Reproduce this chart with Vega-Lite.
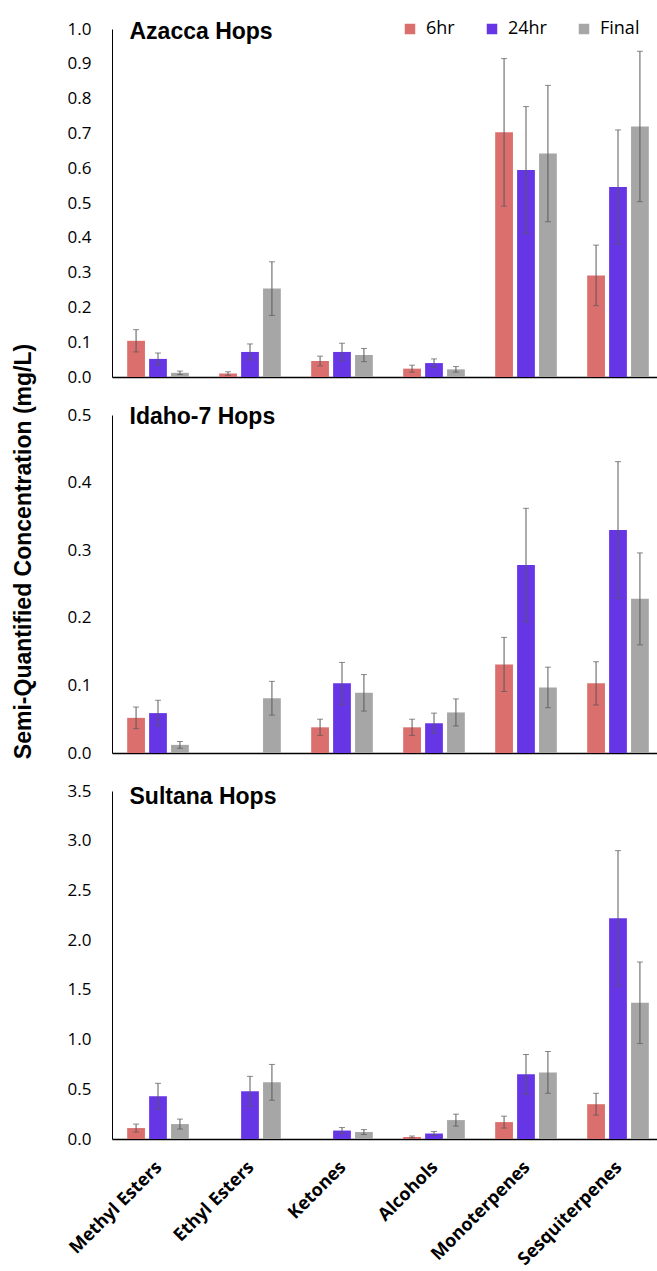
{
  "$schema": "https://vega.github.io/schema/vega-lite/v6.json",
  "padding": {"left": 11, "top": 20, "right": 0, "bottom": 0},
  "bounds": "flush",
  "spacing": 38,
  "background": "white",
  "data": {"values": [
    {"hop": "Azacca", "cat": "Methyl Esters", "time": "6hr", "value": 0.104, "lo": 0.072, "hi": 0.136},
    {"hop": "Azacca", "cat": "Methyl Esters", "time": "24hr", "value": 0.052, "lo": 0.035, "hi": 0.069},
    {"hop": "Azacca", "cat": "Methyl Esters", "time": "Final", "value": 0.012, "lo": 0.007, "hi": 0.017},
    {"hop": "Azacca", "cat": "Ethyl Esters", "time": "6hr", "value": 0.01, "lo": 0.005, "hi": 0.015},
    {"hop": "Azacca", "cat": "Ethyl Esters", "time": "24hr", "value": 0.072, "lo": 0.049, "hi": 0.095},
    {"hop": "Azacca", "cat": "Ethyl Esters", "time": "Final", "value": 0.254, "lo": 0.177, "hi": 0.331},
    {"hop": "Azacca", "cat": "Ketones", "time": "6hr", "value": 0.046, "lo": 0.032, "hi": 0.06},
    {"hop": "Azacca", "cat": "Ketones", "time": "24hr", "value": 0.072, "lo": 0.047, "hi": 0.097},
    {"hop": "Azacca", "cat": "Ketones", "time": "Final", "value": 0.063, "lo": 0.044, "hi": 0.082},
    {"hop": "Azacca", "cat": "Alcohols", "time": "6hr", "value": 0.024, "lo": 0.014, "hi": 0.034},
    {"hop": "Azacca", "cat": "Alcohols", "time": "24hr", "value": 0.04, "lo": 0.028, "hi": 0.052},
    {"hop": "Azacca", "cat": "Alcohols", "time": "Final", "value": 0.022, "lo": 0.014, "hi": 0.03},
    {"hop": "Azacca", "cat": "Monoterpenes", "time": "6hr", "value": 0.703, "lo": 0.491, "hi": 0.915},
    {"hop": "Azacca", "cat": "Monoterpenes", "time": "24hr", "value": 0.595, "lo": 0.413, "hi": 0.777},
    {"hop": "Azacca", "cat": "Monoterpenes", "time": "Final", "value": 0.642, "lo": 0.446, "hi": 0.838},
    {"hop": "Azacca", "cat": "Sesquiterpenes", "time": "6hr", "value": 0.292, "lo": 0.205, "hi": 0.379},
    {"hop": "Azacca", "cat": "Sesquiterpenes", "time": "24hr", "value": 0.546, "lo": 0.382, "hi": 0.71},
    {"hop": "Azacca", "cat": "Sesquiterpenes", "time": "Final", "value": 0.72, "lo": 0.504, "hi": 0.936},

    {"hop": "Idaho-7", "cat": "Methyl Esters", "time": "6hr", "value": 0.052, "lo": 0.036, "hi": 0.068},
    {"hop": "Idaho-7", "cat": "Methyl Esters", "time": "24hr", "value": 0.059, "lo": 0.04, "hi": 0.078},
    {"hop": "Idaho-7", "cat": "Methyl Esters", "time": "Final", "value": 0.012, "lo": 0.007, "hi": 0.017},
    {"hop": "Idaho-7", "cat": "Ethyl Esters", "time": "Final", "value": 0.081, "lo": 0.056, "hi": 0.106},
    {"hop": "Idaho-7", "cat": "Ketones", "time": "6hr", "value": 0.038, "lo": 0.026, "hi": 0.05},
    {"hop": "Idaho-7", "cat": "Ketones", "time": "24hr", "value": 0.103, "lo": 0.072, "hi": 0.134},
    {"hop": "Idaho-7", "cat": "Ketones", "time": "Final", "value": 0.089, "lo": 0.062, "hi": 0.116},
    {"hop": "Idaho-7", "cat": "Alcohols", "time": "6hr", "value": 0.038, "lo": 0.026, "hi": 0.05},
    {"hop": "Idaho-7", "cat": "Alcohols", "time": "24hr", "value": 0.044, "lo": 0.029, "hi": 0.059},
    {"hop": "Idaho-7", "cat": "Alcohols", "time": "Final", "value": 0.06, "lo": 0.04, "hi": 0.08},
    {"hop": "Idaho-7", "cat": "Monoterpenes", "time": "6hr", "value": 0.131, "lo": 0.091, "hi": 0.171},
    {"hop": "Idaho-7", "cat": "Monoterpenes", "time": "24hr", "value": 0.278, "lo": 0.194, "hi": 0.362},
    {"hop": "Idaho-7", "cat": "Monoterpenes", "time": "Final", "value": 0.097, "lo": 0.067, "hi": 0.127},
    {"hop": "Idaho-7", "cat": "Sesquiterpenes", "time": "6hr", "value": 0.103, "lo": 0.071, "hi": 0.135},
    {"hop": "Idaho-7", "cat": "Sesquiterpenes", "time": "24hr", "value": 0.33, "lo": 0.229, "hi": 0.431},
    {"hop": "Idaho-7", "cat": "Sesquiterpenes", "time": "Final", "value": 0.228, "lo": 0.16, "hi": 0.296},

    {"hop": "Sultana", "cat": "Methyl Esters", "time": "6hr", "value": 0.11, "lo": 0.07, "hi": 0.15},
    {"hop": "Sultana", "cat": "Methyl Esters", "time": "24hr", "value": 0.43, "lo": 0.3, "hi": 0.56},
    {"hop": "Sultana", "cat": "Methyl Esters", "time": "Final", "value": 0.15, "lo": 0.1, "hi": 0.2},
    {"hop": "Sultana", "cat": "Ethyl Esters", "time": "24hr", "value": 0.48, "lo": 0.33, "hi": 0.63},
    {"hop": "Sultana", "cat": "Ethyl Esters", "time": "Final", "value": 0.57, "lo": 0.39, "hi": 0.75},
    {"hop": "Sultana", "cat": "Ketones", "time": "24hr", "value": 0.085, "lo": 0.055, "hi": 0.115},
    {"hop": "Sultana", "cat": "Ketones", "time": "Final", "value": 0.07, "lo": 0.045, "hi": 0.095},
    {"hop": "Sultana", "cat": "Alcohols", "time": "6hr", "value": 0.02, "lo": 0.01, "hi": 0.03},
    {"hop": "Sultana", "cat": "Alcohols", "time": "24hr", "value": 0.055, "lo": 0.035, "hi": 0.075},
    {"hop": "Sultana", "cat": "Alcohols", "time": "Final", "value": 0.19, "lo": 0.13, "hi": 0.25},
    {"hop": "Sultana", "cat": "Monoterpenes", "time": "6hr", "value": 0.17, "lo": 0.11, "hi": 0.23},
    {"hop": "Sultana", "cat": "Monoterpenes", "time": "24hr", "value": 0.65, "lo": 0.45, "hi": 0.85},
    {"hop": "Sultana", "cat": "Monoterpenes", "time": "Final", "value": 0.67, "lo": 0.46, "hi": 0.88},
    {"hop": "Sultana", "cat": "Sesquiterpenes", "time": "6hr", "value": 0.35, "lo": 0.24, "hi": 0.46},
    {"hop": "Sultana", "cat": "Sesquiterpenes", "time": "24hr", "value": 2.22, "lo": 1.54, "hi": 2.9},
    {"hop": "Sultana", "cat": "Sesquiterpenes", "time": "Final", "value": 1.37, "lo": 0.96, "hi": 1.78}
  ]},
  "config": {
    "view": {"stroke": null},
    "font": "Open Sans",
    "axis": {"grid": false, "domainColor": "#000000", "labelColor": "#000000", "titleColor": "#000000", "labelOverlap": false},
    "axisY": {"ticks": false, "labelOverlap": false, "labelPadding": 21, "labelFontSize": 17, "domainWidth": 1, "format": ".1f"},
    "axisX": {"titleFont": "Liberation Sans", "titleFontWeight": "bold", "titleFontSize": 23, "titleAlign": "left", "titleBaseline": "alphabetic", "titleX": 17, "titleAngle": 0}
  },
  "vconcat": [
    {
      "width": 552, "height": 348,
      "transform": [{"filter": "datum.hop === 'Azacca'"}],
      "resolve": {"axis": {"y": "independent"}},
      "encoding": {
        "x": {"field": "cat", "type": "nominal", "sort": ["Methyl Esters", "Ethyl Esters", "Ketones", "Alcohols", "Monoterpenes", "Sesquiterpenes"], "scale": {"domain": ["Methyl Esters", "Ethyl Esters", "Ketones", "Alcohols", "Monoterpenes", "Sesquiterpenes"], "paddingInner": 0.33, "paddingOuter": 0.165}, "axis": {"title": "Azacca Hops", "titleY": -339, "labels": false, "ticks": false, "domainWidth": 1.5}},
        "xOffset": {"field": "time", "type": "nominal", "sort": ["6hr", "24hr", "Final"], "scale": {"domain": ["6hr", "24hr", "Final"], "paddingInner": 0.19}}
      },
      "layer": [
        {"mark": {"type": "bar"},
         "encoding": {
           "y": {"field": "value", "type": "quantitative", "scale": {"domain": [0, 1], "nice": false}, "axis": {"title": null, "values": [0, 0.1, 0.2, 0.3, 0.4, 0.5, 0.6, 0.7, 0.8, 0.9, 1.0], "labelOverlap": false, "labelSeparation": 0}},
           "color": {"field": "time", "type": "nominal", "scale": {"domain": ["6hr", "24hr", "Final"], "range": ["#DB6F6D", "#6535E6", "#A6A6A6"]}, "legend": {"title": null, "orient": "none", "legendX": 289, "legendY": -9, "direction": "horizontal", "symbolType": "square", "symbolSize": 110, "symbolStrokeWidth": 0, "labelFontSize": 18, "labelFont": "Open Sans", "columnPadding": 28, "labelOffset": 7}}
         }},
        {"mark": {"type": "rule", "color": "#5A5A5A", "strokeWidth": 1},
         "encoding": {"y": {"field": "lo", "type": "quantitative", "axis": null}, "y2": {"field": "hi"}}},
        {"mark": {"type": "tick", "color": "#5A5A5A", "thickness": 1, "size": 6, "orient": "horizontal"},
         "encoding": {"y": {"field": "hi", "type": "quantitative", "axis": null}}},
        {"mark": {"type": "tick", "color": "#5A5A5A", "thickness": 1, "size": 6, "orient": "horizontal"},
         "encoding": {"y": {"field": "lo", "type": "quantitative", "axis": null}}}
      ]
    },
    {
      "width": 552, "height": 338,
      "transform": [{"filter": "datum.hop === 'Idaho-7'"}],
      "encoding": {
        "x": {"field": "cat", "type": "nominal", "sort": ["Methyl Esters", "Ethyl Esters", "Ketones", "Alcohols", "Monoterpenes", "Sesquiterpenes"], "scale": {"domain": ["Methyl Esters", "Ethyl Esters", "Ketones", "Alcohols", "Monoterpenes", "Sesquiterpenes"], "paddingInner": 0.33, "paddingOuter": 0.165}, "axis": {"title": "Idaho-7 Hops", "titleY": -330, "labels": false, "ticks": false, "domainWidth": 1.5}},
        "xOffset": {"field": "time", "type": "nominal", "sort": ["6hr", "24hr", "Final"], "scale": {"domain": ["6hr", "24hr", "Final"], "paddingInner": 0.19}}
      },
      "layer": [
        {"mark": {"type": "bar"},
         "encoding": {
           "y": {"field": "value", "type": "quantitative", "scale": {"domain": [0, 0.5], "nice": false}, "axis": {"title": "Semi-Quantified Concentration (mg/L)", "titleFont": "Liberation Sans", "titleFontSize": 23, "titleFontWeight": "bold", "titleX": -89, "titleY": 136, "titleAngle": -90, "titleBaseline": "middle", "titleAlign": "center", "values": [0, 0.1, 0.2, 0.3, 0.4, 0.5]}},
           "color": {"field": "time", "type": "nominal", "scale": {"domain": ["6hr", "24hr", "Final"], "range": ["#DB6F6D", "#6535E6", "#A6A6A6"]}, "legend": null}
         }},
        {"mark": {"type": "rule", "color": "#5A5A5A", "strokeWidth": 1},
         "encoding": {"y": {"field": "lo", "type": "quantitative"}, "y2": {"field": "hi"}}},
        {"mark": {"type": "tick", "color": "#5A5A5A", "thickness": 1, "size": 6, "orient": "horizontal"},
         "encoding": {"y": {"field": "hi", "type": "quantitative"}}},
        {"mark": {"type": "tick", "color": "#5A5A5A", "thickness": 1, "size": 6, "orient": "horizontal"},
         "encoding": {"y": {"field": "lo", "type": "quantitative"}}}
      ]
    },
    {
      "width": 552, "height": 348,
      "transform": [{"filter": "datum.hop === 'Sultana'"}],
      "encoding": {
        "x": {"field": "cat", "type": "nominal", "sort": ["Methyl Esters", "Ethyl Esters", "Ketones", "Alcohols", "Monoterpenes", "Sesquiterpenes"], "scale": {"domain": ["Methyl Esters", "Ethyl Esters", "Ketones", "Alcohols", "Monoterpenes", "Sesquiterpenes"], "paddingInner": 0.33, "paddingOuter": 0.165}, "axis": {"title": "Sultana Hops", "titleY": -336, "ticks": false, "domainWidth": 1.5, "labelAngle": -45, "labelFontSize": 18, "labelFontWeight": "bold", "labelPadding": 19, "labelOffset": -5, "labelColor": "#000000", "labelOverlap": false}},
        "xOffset": {"field": "time", "type": "nominal", "sort": ["6hr", "24hr", "Final"], "scale": {"domain": ["6hr", "24hr", "Final"], "paddingInner": 0.19}}
      },
      "layer": [
        {"mark": {"type": "bar"},
         "encoding": {
           "y": {"field": "value", "type": "quantitative", "scale": {"domain": [0, 3.5], "nice": false}, "axis": {"title": null, "values": [0, 0.5, 1.0, 1.5, 2.0, 2.5, 3.0, 3.5]}},
           "color": {"field": "time", "type": "nominal", "scale": {"domain": ["6hr", "24hr", "Final"], "range": ["#DB6F6D", "#6535E6", "#A6A6A6"]}, "legend": null}
         }},
        {"mark": {"type": "rule", "color": "#5A5A5A", "strokeWidth": 1},
         "encoding": {"y": {"field": "lo", "type": "quantitative"}, "y2": {"field": "hi"}}},
        {"mark": {"type": "tick", "color": "#5A5A5A", "thickness": 1, "size": 6, "orient": "horizontal"},
         "encoding": {"y": {"field": "hi", "type": "quantitative"}}},
        {"mark": {"type": "tick", "color": "#5A5A5A", "thickness": 1, "size": 6, "orient": "horizontal"},
         "encoding": {"y": {"field": "lo", "type": "quantitative"}}}
      ]
    }
  ]
}
